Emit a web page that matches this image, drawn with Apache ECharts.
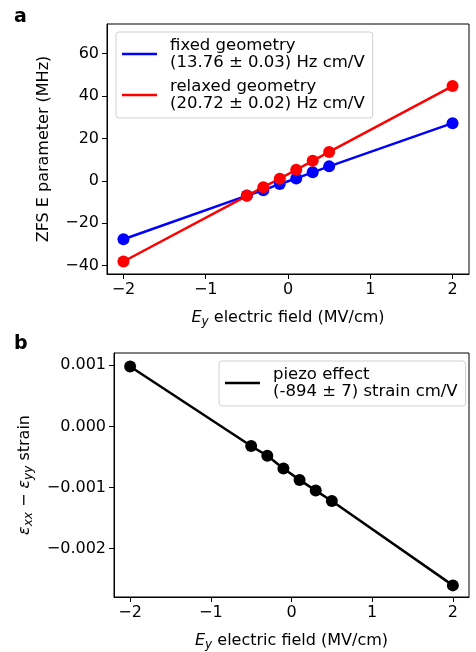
<!DOCTYPE html>
<html><head><meta charset="utf-8">
<script src="https://cdn.jsdelivr.net/npm/echarts@6/dist/echarts.min.js"></script>
<style>html,body{margin:0;padding:0;background:#fff}#c{width:476px;height:652px}</style>
</head><body><div id="c"></div>
<script>
const fieldX = [-2, -0.5, -0.3, -0.1, 0.1, 0.3, 0.5, 2];
const fixedE = [-27.6, -7.0, -4.5, -1.5, 1.1, 4.0, 6.8, 27.2];
const relaxedE = [-38.1, -7.1, -3.0, 1.0, 5.2, 9.4, 13.6, 44.7];
const strain = [0.00098, -0.00032, -0.00048, -0.00069, -0.000875, -0.00105, -0.00122, -0.00260];
const xTicks = [-2, -1, 0, 1, 2];
const yTicksTop = [-40, -20, 0, 20, 40, 60];
const yTicksBot = [-0.002, -0.001, 0, 0.001];
const legendText = {
  fixed: 'fixed geometry\n(13.76 ± 0.03) Hz cm/V',
  relaxed: 'relaxed geometry\n(20.72 ± 0.02) Hz cm/V',
  piezo: 'piezo effect\n(-894 ± 7) strain cm/V'
};
const F = 'DejaVu Sans';
const FS = 16;
const pairs = ys => fieldX.map((x, i) => [x, ys[i]]);
const minus = s => String(s).replace('-', '\u2212');

function xAxis(gi) {
  return {
    type: 'value', gridIndex: gi, min: -2.2, max: 2.2,
    axisLine: {show: true, onZero: false, lineStyle: {color: '#000', width: 1}},
    axisTick: {show: true, length: 5, customValues: xTicks, lineStyle: {color: '#000'}},
    axisLabel: {customValues: xTicks, margin: 8, color: '#000', fontFamily: F, fontSize: FS, formatter: v => minus(v)},
    splitLine: {show: false},
    name: '{i|E}{s|y} electric field (MV/cm)', nameLocation: 'middle', nameGap: 33,
    nameTextStyle: {color: '#000', fontFamily: F, fontSize: FS,
      rich: {i: {fontStyle: 'italic', fontFamily: F, fontSize: FS, color: '#000'},
             s: {fontStyle: 'italic', fontFamily: F, fontSize: 12, color: '#000', padding: [9, 0, 0, 0]}}}
  };
}
function yAxisBase(gi, min, max, ticks, fmt) {
  return {
    type: 'value', gridIndex: gi, min: min, max: max,
    axisLine: {show: true, onZero: false, lineStyle: {color: '#000'}},
    axisTick: {show: true, length: 5, customValues: ticks, lineStyle: {color: '#000'}},
    axisLabel: {customValues: ticks, margin: 8, color: '#000', fontFamily: F, fontSize: FS, formatter: fmt},
    splitLine: {show: false}
  };
}
const baseSeries = {type: 'line', symbol: 'circle', symbolSize: 12, lineStyle: {width: 2.5}, animation: false, z: 2};
const legendBase = {
  orient: 'vertical', icon: 'rect', itemWidth: 35, itemHeight: 2.5, itemGap: 7,
  borderColor: '#d0d0d0', borderWidth: 1, borderRadius: 3, backgroundColor: 'rgba(255,255,255,0.8)',
  padding: [5, 8, 6, 6],
  textStyle: {color: '#000', fontFamily: F, fontSize: 16.5, lineHeight: 17, padding: [0, 0, 0, 8]},
  formatter: n => legendText[n], selectedMode: false
};
const yTop = Object.assign(yAxisBase(0, -44, 74, yTicksTop, v => minus(v)), {
  name: 'ZFS E parameter (MHz)', nameLocation: 'middle', nameGap: 55, nameRotate: 90,
  nameTextStyle: {color: '#000', fontFamily: F, fontSize: FS}
});
const yBot = Object.assign(yAxisBase(1, -0.00279, 0.0012, yTicksBot, v => minus(v.toFixed(3))), {
  name: '{i|ε}{s|xx} \u2212 {i|ε}{s|yy} strain', nameLocation: 'middle', nameGap: 79, nameRotate: 90,
  nameTextStyle: {color: '#000', fontFamily: F, fontSize: FS,
    rich: {i: {fontStyle: 'italic', fontFamily: F, fontSize: FS, color: '#000'},
           s: {fontStyle: 'italic', fontFamily: F, fontSize: 12, color: '#000', padding: [9, 0, 0, 0]}}}
});
const option = {
  animation: false,
  title: [
    {text: 'a', left: 9, top: 3, textStyle: {fontFamily: F, fontWeight: 'bold', fontSize: 19, color: '#000'}},
    {text: 'b', left: 9, top: 330, textStyle: {fontFamily: F, fontWeight: 'bold', fontSize: 19, color: '#000'}}
  ],
  grid: [
    {left: 107, top: 24, width: 362, height: 250, show: true, borderColor: '#000', borderWidth: 1, backgroundColor: 'transparent'},
    {left: 114, top: 353, width: 355, height: 249, show: true, borderColor: '#000', borderWidth: 1, backgroundColor: 'transparent'}
  ],
  xAxis: [xAxis(0), xAxis(1)],
  yAxis: [yTop, yBot],
  legend: [
    Object.assign({}, legendBase, {data: ['fixed', 'relaxed'], left: 116, top: 32}),
    Object.assign({}, legendBase, {data: ['piezo'], left: 219, top: 361})
  ],
  series: [
    Object.assign({}, baseSeries, {name: 'fixed', xAxisIndex: 0, yAxisIndex: 0, color: '#0000ff', data: pairs(fixedE)}),
    Object.assign({}, baseSeries, {name: 'relaxed', xAxisIndex: 0, yAxisIndex: 0, color: '#ff0000', data: pairs(relaxedE)}),
    Object.assign({}, baseSeries, {name: 'piezo', xAxisIndex: 1, yAxisIndex: 1, color: '#000000', data: pairs(strain)})
  ]
};
const chart = echarts.init(document.getElementById('c'), null, {renderer: 'canvas'});
chart.setOption(option);
</script></body></html>
